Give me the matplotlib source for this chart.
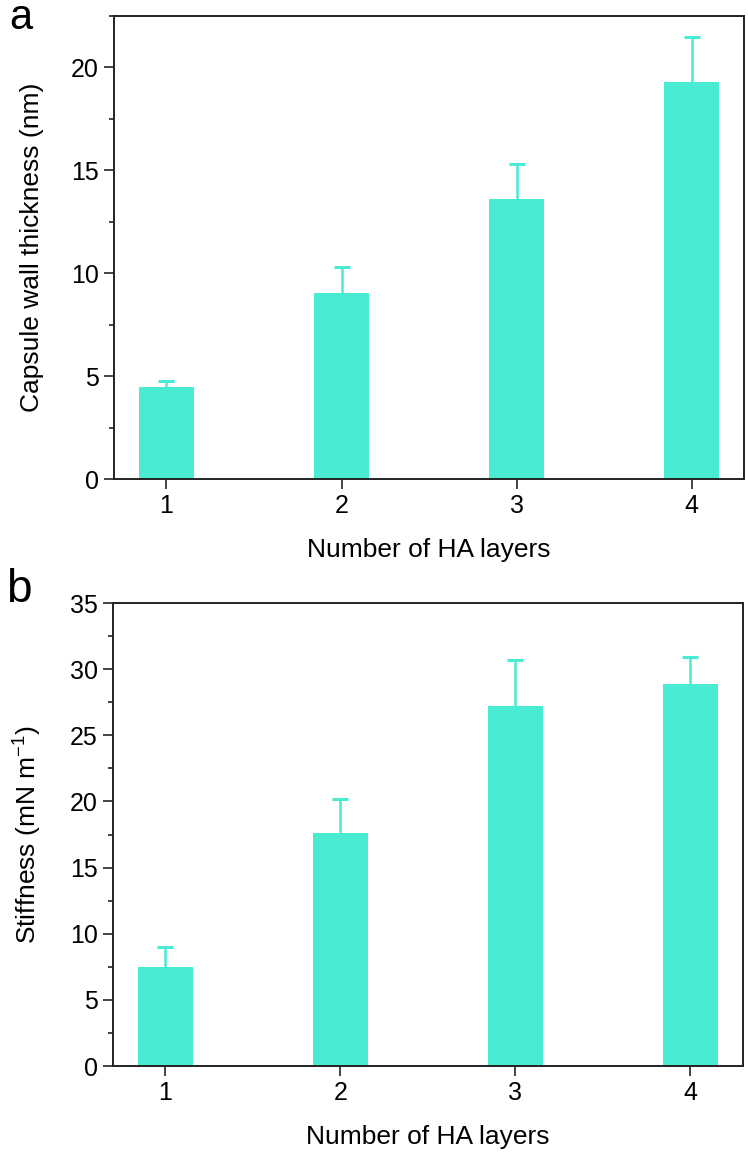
import matplotlib
matplotlib.use('Agg')
import matplotlib.pyplot as plt
import numpy as np
from matplotlib.ticker import MultipleLocator

plt.rcParams['font.family'] = ['Liberation Sans', 'DejaVu Sans']
plt.rcParams['mathtext.fontset'] = 'custom'
plt.rcParams['mathtext.rm'] = 'Liberation Sans'

# data
layers = [1, 2, 3, 4]
thickness = [4.45, 9.05, 13.6, 19.3]
thickness_err = [0.3, 1.25, 1.7, 2.2]
stiffness = [7.5, 17.6, 27.2, 28.9]
stiffness_err = [1.5, 2.6, 3.5, 2.0]

bar_color = '#4AEBD3'
spine_color = '#222222'

fig = plt.figure(figsize=(7.48, 11.59), dpi=100)
ax1 = fig.add_axes([0.1524, 0.5867, 0.8423, 0.3995])
ax2 = fig.add_axes([0.1510, 0.0802, 0.8423, 0.3995])


def draw(ax, vals, errs, ylim, major, ylabel):
    x = np.array(layers)
    ax.bar(x, vals, width=0.31, color=bar_color, zorder=2)
    # upper error bar only
    _, caps, _ = ax.errorbar(x, vals, yerr=[np.zeros(len(errs)), errs], fmt='none',
                             ecolor=bar_color, elinewidth=1.8, capsize=6, capthick=2.2,
                             zorder=2)
    caps[0].set_visible(False)
    ax.set_xlim(0.7, 4.3)
    ax.set_ylim(*ylim)
    ax.set_xticks(layers)
    ax.yaxis.set_major_locator(MultipleLocator(major))
    ax.yaxis.set_minor_locator(MultipleLocator(major / 2))
    ax.tick_params(axis='both', which='major', direction='out', length=7,
                   width=1.2, labelsize=18, color=spine_color, pad=4)
    ax.tick_params(axis='y', which='minor', direction='out', length=3.5,
                   width=1.2, color=spine_color)
    ax.tick_params(top=False, right=False)
    for s in ax.spines.values():
        s.set_linewidth(1.4)
        s.set_color(spine_color)
    ax.set_xlabel('Number of HA layers', fontsize=19, labelpad=14)
    ax.set_ylabel(ylabel, fontsize=19, labelpad=19)


draw(ax1, thickness, thickness_err, (0, 22.5), 5, 'Capsule wall thickness (nm)')
draw(ax2, stiffness, stiffness_err, (0, 35), 5, r'Stiffness (mN m$^{\mathregular{-1}}$)')

fig.text(0.012, 0.975, 'a', fontsize=30, va='baseline', ha='left')
fig.text(0.008, 0.4806, 'b', fontsize=33, va='baseline', ha='left')

fig.savefig('out.png', dpi=100)
